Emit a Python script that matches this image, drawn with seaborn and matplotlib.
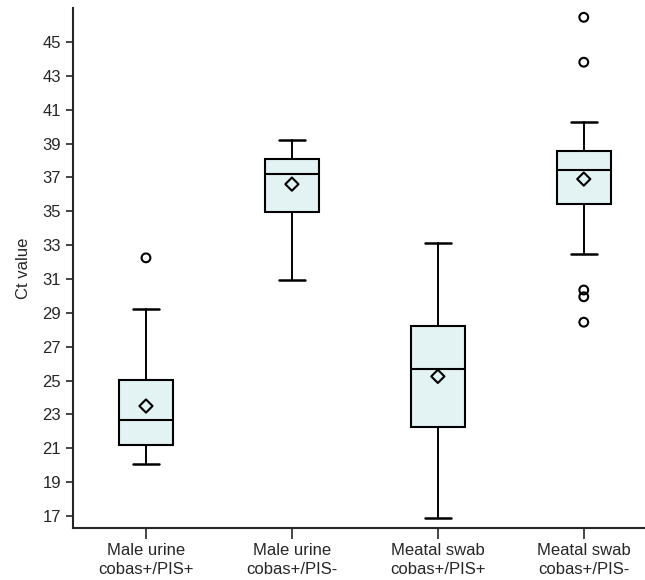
import numpy as np
import pandas as pd
import matplotlib
matplotlib.use("Agg")
import matplotlib.pyplot as plt
import seaborn as sns

# Summary statistics (Ct values)
groups = ["Male urine\ncobas+/PIS+", "Male urine\ncobas+/PIS-",
          "Meatal swab\ncobas+/PIS+", "Meatal swab\ncobas+/PIS-"]
whisker_low = [20.1, 30.95, 16.9, 32.45]
q1 = [21.22, 34.98, 22.26, 35.43]
median = [22.65, 37.2, 25.7, 37.45]
q3 = [25.05, 38.1, 28.2, 38.55]
whisker_high = [29.2, 39.2, 33.1, 40.25]
means = [23.5, 36.6, 25.25, 36.9]
outliers = [[32.25], [], [], [46.45, 43.8, 30.35, 29.95, 28.45]]

sns.set_style("ticks")
plt.rcParams["font.family"] = ["Liberation Sans", "DejaVu Sans"]

fig = plt.figure(figsize=(6.45, 5.8), dpi=100)
ax = fig.add_axes([0.1132, 0.0897, 0.905, 0.8965])

stats = []
for i in range(len(groups)):
    stats.append({
        "whislo": whisker_low[i], "q1": q1[i], "med": median[i],
        "q3": q3[i], "whishi": whisker_high[i], "mean": means[i],
        "fliers": np.array(outliers[i]),
    })

pos = np.arange(len(groups))
ax.bxp(stats, positions=pos, widths=0.37, patch_artist=True,
       showmeans=False, showfliers=False,
       boxprops=dict(facecolor="#e3f2f2", edgecolor="black", linewidth=1.5),
       medianprops=dict(color="black", linewidth=1.5),
       whiskerprops=dict(color="black", linewidth=1.4),
       capprops=dict(color="black", linewidth=1.8),
       capwidths=0.18)

# means and outliers drawn as points on top of the boxes
mean_df = pd.DataFrame({"x": pos, "y": means})
sns.scatterplot(data=mean_df, x="x", y="y", marker="D", s=45,
                facecolor="none", edgecolor="black", linewidth=1.5,
                zorder=4, ax=ax)
out_df = pd.DataFrame([(i, v) for i, vals in enumerate(outliers) for v in vals],
                      columns=["x", "y"])
sns.scatterplot(data=out_df, x="x", y="y", marker="o", s=40,
                facecolor="none", edgecolor="black", linewidth=1.5,
                zorder=4, ax=ax)

ax.set_xlim(-0.5, 3.5)
ax.set_ylim(16.3, 47.0)
ax.set_yticks(np.arange(17, 46, 2))
ax.set_xticks(pos)
ax.set_xticklabels(groups, fontsize=12, linespacing=1.3)
ax.tick_params(axis="y", labelsize=12, length=5, width=1.2)
ax.tick_params(axis="x", length=8, width=1.2, pad=3)
ax.set_xlabel("")
ax.set_ylabel("Ct value", fontsize=12, labelpad=8)
for side in ["left", "bottom"]:
    ax.spines[side].set_linewidth(1.5)
sns.despine(ax=ax)

fig.savefig("out.png", dpi=100)
